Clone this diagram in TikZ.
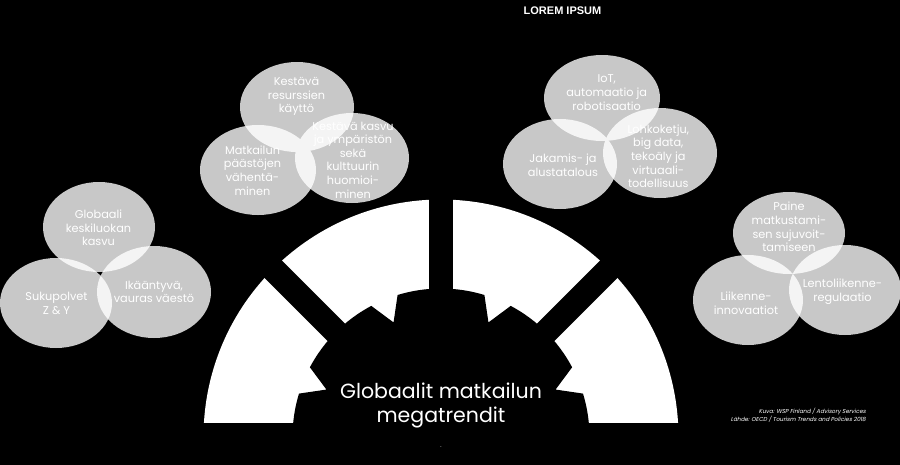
\documentclass[tikz,border=0pt]{standalone}
\usepackage{fontspec}
\setmainfont{Poppins}
\newfontfamily\loremfont{Liberation Sans}
\newfontfamily\creditfont[FakeSlant=0.2]{Poppins}
\definecolor{bubble}{RGB}{200,200,200}
\definecolor{lens}{RGB}{244,244,244}
\begin{document}
\begin{tikzpicture}[x=1pt,y=-1pt,
  bubtext/.style={text=white, align=center, font=\fontsize{11.3}{13.6}\selectfont, inner sep=0pt},
  titletext/.style={text=white, align=center, font=\fontsize{20.5}{24}\selectfont, inner sep=0pt},
  credittext/.style={text=white, align=right, anchor=east, inner sep=0pt, font=\creditfont\fontsize{5.7}{8}\selectfont},
  loremtext/.style={text=white, inner sep=0pt, font=\loremfont\bfseries\fontsize{11}{12}\selectfont}]
\useasboundingbox (0,0) rectangle (900,464);
\fill[black] (0,0) rectangle (900,464);
\clip (0,0) rectangle (900,464);

% ---- arch with gear ----
\begin{scope}[shift={(441,437)}]
  \fill[white] (183.3:237.5) arc[start angle=183.3, end angle=356.7, radius=237.5] -- cycle;
  \fill[black] (-22.5:124) \foreach \a in {0,45,...,315} { -- ({\a-22.5}:124) -- ({\a-17}:148.5) arc[start angle=\a-17, end angle=\a+17, radius=148.5] -- ({\a+22.5}:124) } -- cycle;
  \foreach \r in {45,90,135} \fill[black, rotate=\r] (0,-12.25) rectangle (260,12.25);
\end{scope}
\fill[black] (0,423.3) rectangle (900,470);

% ---- left group ----
\fill[bubble] (99,227) ellipse[x radius=56,y radius=45] (56,303) ellipse[x radius=56,y radius=45] (154,292) ellipse[x radius=57,y radius=46];
\begin{scope}\clip (99,227) ellipse[x radius=56,y radius=45]; \fill[lens] (56,303) ellipse[x radius=56,y radius=45] (154,292) ellipse[x radius=57,y radius=46];\end{scope}
\begin{scope}\clip (56,303) ellipse[x radius=56,y radius=45]; \fill[lens] (154,292) ellipse[x radius=57,y radius=46];\end{scope}
\node[bubtext] (glob) at (98.5,228) {Globaali\\keskiluokan\\kasvu};
\node[bubtext] (suku) at (56.5,303.3) {Sukupolvet\\Z \& Y};
\node[bubtext] (ikaa) at (154,291.7) {Ikääntyvä,\\vauras väestö};

% ---- top-left group ----
\fill[bubble] (297,107) ellipse[x radius=57,y radius=45] (258,170) ellipse[x radius=58,y radius=45] (352,158) ellipse[x radius=57,y radius=45];
\begin{scope}\clip (297,107) ellipse[x radius=57,y radius=45]; \fill[lens] (258,170) ellipse[x radius=58,y radius=45] (352,158) ellipse[x radius=57,y radius=45];\end{scope}
\begin{scope}\clip (258,170) ellipse[x radius=58,y radius=45]; \fill[lens] (352,158) ellipse[x radius=57,y radius=45];\end{scope}
\node[bubtext] (kest) at (296.5,96.7) {Kestävä\\resurssien\\käyttö};
\node[bubtext] (matk) at (252.5,170.5) {Matkailun\\päästöjen\\vähentä-\\minen};
\node[bubtext] (kasv) at (353,160) {Kestävä kasvu\\ja ympäristön\\sekä\\kulttuurin\\huomioi-\\minen};

% ---- top-right group ----
\fill[bubble] (602,98) ellipse[x radius=58,y radius=43] (560,164) ellipse[x radius=57,y radius=45] (660,153) ellipse[x radius=57,y radius=45];
\begin{scope}\clip (602,98) ellipse[x radius=58,y radius=43]; \fill[lens] (560,164) ellipse[x radius=57,y radius=45] (660,153) ellipse[x radius=57,y radius=45];\end{scope}
\begin{scope}\clip (560,164) ellipse[x radius=57,y radius=45]; \fill[lens] (660,153) ellipse[x radius=57,y radius=45];\end{scope}
\node[bubtext] (iot) at (606.7,92.7) {IoT,\\automaatio ja\\robotisaatio};
\node[bubtext] (jaka) at (563,165.3) {Jakamis- ja\\alustatalous};
\node[bubtext] (lohk) at (658.3,156.3) {Lohkoketju,\\big data,\\tekoäly ja\\virtuaali-\\todellisuus};

% ---- right group ----
\fill[bubble] (789,233) ellipse[x radius=56,y radius=41] (748,300) ellipse[x radius=55,y radius=45] (845,290) ellipse[x radius=56,y radius=45];
\begin{scope}\clip (789,233) ellipse[x radius=56,y radius=41]; \fill[lens] (748,300) ellipse[x radius=55,y radius=45] (845,290) ellipse[x radius=56,y radius=45];\end{scope}
\begin{scope}\clip (748,300) ellipse[x radius=55,y radius=45]; \fill[lens] (845,290) ellipse[x radius=56,y radius=45];\end{scope}
\node[bubtext] (pain) at (789,227) {Paine\\matkustami-\\sen sujuvoit-\\tamiseen};
\node[bubtext] (liik) at (746,303.3) {Liikenne-\\innovaatiot};
\node[bubtext] (lent) at (842.5,291.7) {Lentoliikenne-\\regulaatio};

% ---- texts ----
\node[titletext] (title) at (441,405.3) {Globaalit matkailun\\megatrendit};
\node[loremtext] (lorem) at (562.5,11) {LOREM IPSUM};
\node[credittext] (cred) at (866,415) {Kuva: WSP Finland / Advisory Services\\Lähde: OECD / Tourism Trends and Policies 2018};
\node[text=white, inner sep=0pt, font=\fontsize{6}{6}\selectfont] (dot) at (441,447) {.};
\end{tikzpicture}
\end{document}
